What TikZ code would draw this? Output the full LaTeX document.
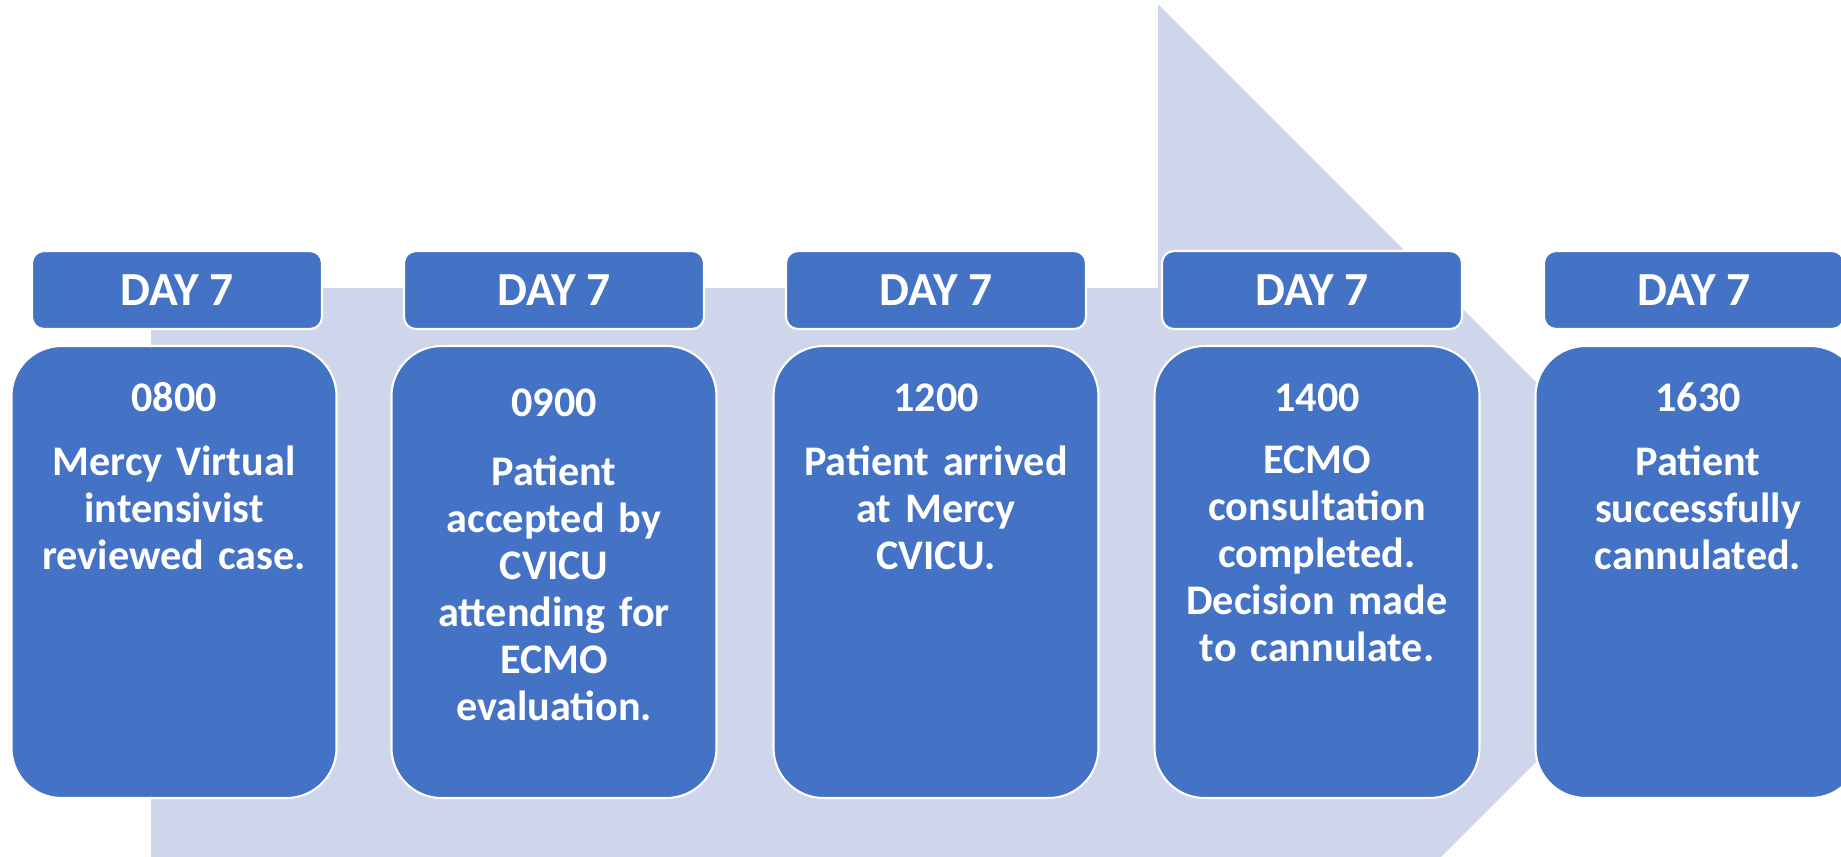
\documentclass[tikz,border=0pt]{standalone}
\usepackage{fontspec}
\setmainfont{Carlito}
\usepackage{tikz}

\definecolor{arrowfill}{HTML}{CFD5EA}
\definecolor{boxblue}{HTML}{4472C4}

\begin{document}
\begin{tikzpicture}[
  daybox/.style={fill=boxblue, draw=white, line width=0.6pt, rounded corners=0.12cm,
    minimum width=3cm, minimum height=0.78cm, inner sep=0pt, text=white,
    font=\fontsize{13.5}{15}\selectfont\bfseries},
  eventbox/.style={fill=boxblue, draw=white, line width=0.6pt, rounded corners=0.5cm,
    minimum width=3.25cm, minimum height=4.52cm, inner sep=0pt},
  timelabel/.style={anchor=base, inner sep=0pt, text=white,
    font=\fontsize{12}{13.4}\selectfont\bfseries},
  eventtext/.style={anchor=base, inner sep=0pt, text=white, text width=3.1cm, align=center,
    font=\fontsize{12}{13.4}\selectfont\bfseries}]
\useasboundingbox (0,0) rectangle (18.41,-8.56);
\clip (0,0) rectangle (18.41,-8.56);

% big background arrow
\fill[arrowfill] (1.51,-2.88) -- (11.58,-2.88) -- (11.58,-0.04) -- (17.26,-5.72)
  -- (11.58,-11.40) -- (11.58,-8.60) -- (1.51,-8.60) -- cycle;

% headers
\node[daybox, minimum width=2.9cm] (day1) at (1.77,-2.90) {DAY 7};
\node[daybox] (day2) at (5.54,-2.90) {DAY 7};
\node[daybox] (day3) at (9.36,-2.90) {DAY 7};
\node[daybox] (day4) at (13.12,-2.90) {DAY 7};
\node[daybox] (day5) at (16.94,-2.90) {DAY 7};

% event boxes
\node[eventbox] (box1) at (1.74,-5.72) {};
\node[eventbox] (box2) at (5.54,-5.72) {};
\node[eventbox] (box3) at (9.36,-5.72) {};
\node[eventbox] (box4) at (13.17,-5.72) {};
\node[eventbox] (box5) at (16.98,-5.72) {};

% times
\node[timelabel] (time1) at (1.74,-4.11) {0800};
\node[timelabel] (time2) at (5.54,-4.16) {0900};
\node[timelabel] (time3) at (9.36,-4.11) {1200};
\node[timelabel] (time4) at (13.17,-4.11) {1400};
\node[timelabel] (time5) at (16.98,-4.11) {1630};

% what happened
\node[eventtext] (note1) at (1.74,-4.75) {Mercy Virtual\\intensivist\\reviewed case.};
\node[eventtext] (note2) at (5.54,-4.85) {Patient\\accepted by\\CVICU\\attending for\\ECMO\\evaluation.};
\node[eventtext] (note3) at (9.36,-4.75) {Patient arrived\\at Mercy\\CVICU.};
\node[eventtext] (note4) at (13.17,-4.73) {ECMO\\consultation\\completed.\\Decision made\\to cannulate.};
\node[eventtext] (note5) at (16.98,-4.75) {Patient\\successfully\\cannulated.};
\end{tikzpicture}
\end{document}
